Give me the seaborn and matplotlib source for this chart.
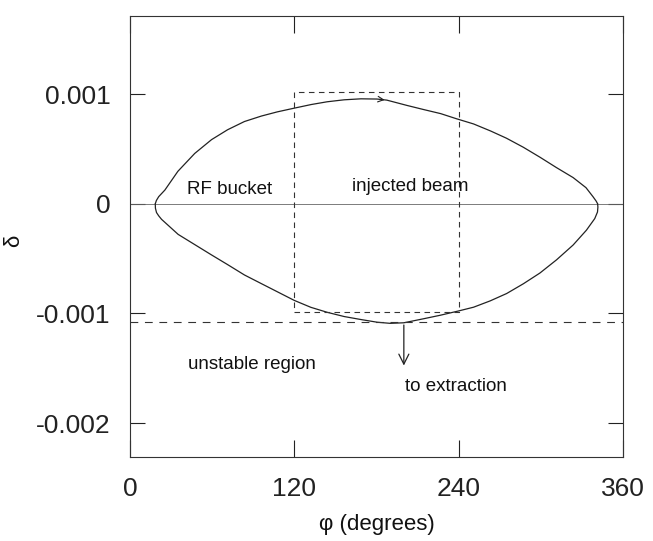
import matplotlib
matplotlib.use("Agg")
import matplotlib.pyplot as plt
import seaborn as sns
import pandas as pd

# ---- data ----
phi_upper = [18.5, 19.3, 21.0, 25.5, 35.0, 47.3, 59.6, 71.3, 83.6, 96.0, 107.6, 120.0, 132.4,
             144.0, 156.4, 168.7, 180.4, 187.6, 202.2, 214.5, 226.9, 238.5, 250.9, 263.3,
             274.9, 287.3, 299.6, 311.3, 323.6, 333.0, 338.1, 340.4, 341.5]
delta_upper = [0.0, 0.000030, 0.000065, 0.000125, 0.000296, 0.000459, 0.000585, 0.000675,
               0.000750, 0.000800, 0.000838, 0.000872, 0.000905, 0.000930, 0.000948, 0.000957,
               0.000955, 0.000945, 0.000897, 0.000859, 0.000822, 0.000775, 0.000728, 0.000664,
               0.000598, 0.000515, 0.000423, 0.000331, 0.000239, 0.000147, 0.000065, 0.000025,
               0.0]
phi_lower = [18.5, 18.6, 19.4, 21.0, 23.1, 35.2, 47.3, 59.4, 71.5, 83.6, 95.8, 107.9, 120.0,
             132.1, 144.2, 156.4, 168.5, 180.6, 190.0, 200.0, 214.5, 226.7, 240.0, 250.9,
             263.1, 275.1, 287.3, 299.4, 311.5, 323.6, 333.3, 339.4, 341.4, 341.7, 341.5]
delta_lower = [0.0, -0.000040, -0.000080, -0.000110, -0.000142, -0.000279, -0.000372,
               -0.000465, -0.000556, -0.000649, -0.000727, -0.000804, -0.000881, -0.000944,
               -0.000990, -0.001028, -0.001055, -0.001080, -0.001090, -0.001085, -0.001048,
               -0.001016, -0.000977, -0.000943, -0.000885, -0.000818, -0.000729, -0.000631,
               -0.000511, -0.000376, -0.000241, -0.000135, -0.000075, -0.000030, 0.0]

beam_phi = [120, 240]             # injected beam box, phase range
beam_delta = [-0.00099, 0.00102]  # injected beam box, momentum range
unstable_delta = -0.00108         # unstable-region boundary
extraction_phi = 200
extraction_delta = [-0.00108, -0.0015]
flow_arrow_phi = [180.4, 188.0]
flow_arrow_delta = [0.000955, 0.000944]

x_ticks = [0, 120, 240, 360]
x_ticklabels = ["0", "120", "240", "360"]
y_ticks = [-0.002, -0.001, 0, 0.001]
y_ticklabels = ["-0.002", "-0.001", "0", "0.001"]

labels = {
    "RF bucket": (72.7, 0.00009, "center"),
    "injected beam": (205.0, 0.00012, "center"),
    "unstable region": (42.2, -0.00151, "left"),
    "to extraction": (201.0, -0.00171, "left"),
}

# ---- plot ----
sns.set_theme(style="white")
plt.rcParams["font.family"] = ["Liberation Sans", "DejaVu Sans"]
plt.rcParams["axes.unicode_minus"] = False

fig = plt.figure(figsize=(6.53, 5.41), dpi=100)
ax = fig.add_axes([0.199, 0.155, 0.755, 0.815])

df_up = pd.DataFrame({"phi": phi_upper, "delta": delta_upper})
df_lo = pd.DataFrame({"phi": phi_lower, "delta": delta_lower})
sns.lineplot(data=df_up, x="phi", y="delta", ax=ax, color="#222222", lw=0.9, sort=False)
sns.lineplot(data=df_lo, x="phi", y="delta", ax=ax, color="#222222", lw=0.9, sort=False)

# zero line
ax.axhline(0, color="#666666", lw=0.6, zorder=1)
# unstable boundary
ax.axhline(unstable_delta, color="#333333", lw=0.8, dashes=(7, 6))
# injected beam box
bx = [beam_phi[0], beam_phi[1], beam_phi[1], beam_phi[0], beam_phi[0]]
by = [beam_delta[0], beam_delta[0], beam_delta[1], beam_delta[1], beam_delta[0]]
ax.plot(bx, by, color="#333333", lw=0.8, dashes=(5, 4))

# arrows
ax.annotate("", xy=(extraction_phi, extraction_delta[1]), xytext=(extraction_phi, extraction_delta[0]),
            arrowprops=dict(arrowstyle="->", color="#222222", lw=0.9, mutation_scale=18))
ax.annotate("", xy=(flow_arrow_phi[1], flow_arrow_delta[1]), xytext=(flow_arrow_phi[0], flow_arrow_delta[0]),
            arrowprops=dict(arrowstyle="->", color="#222222", lw=0.8, mutation_scale=10))

for txt, (px, py, ha) in labels.items():
    ax.text(px, py, txt, ha=ha, va="baseline", fontsize=13.5, color="#111111")

ax.set_xlim(0, 360)
ax.set_ylim(-0.00231, 0.00171)
ax.set_xticks(x_ticks)
ax.set_xticklabels(x_ticklabels)
ax.set_yticks(y_ticks)
ax.set_yticklabels(y_ticklabels)
ax.tick_params(axis="x", direction="in", length=12, width=0.8, top=True, bottom=True,
               labelsize=19, pad=14, colors="#222222")
ax.tick_params(axis="y", direction="in", length=11, width=0.8, left=True, right=True,
               labelsize=19, pad=14, colors="#222222")
for s in ax.spines.values():
    s.set_color("#333333")
    s.set_linewidth(0.8)

ax.set_xlabel("φ (degrees)", fontsize=16, color="#111111", labelpad=10)
ax.set_ylabel("δ", fontsize=16, color="#111111")
ax.yaxis.set_label_coords(-0.215, 0.49)

fig.savefig("out.png", dpi=100)
